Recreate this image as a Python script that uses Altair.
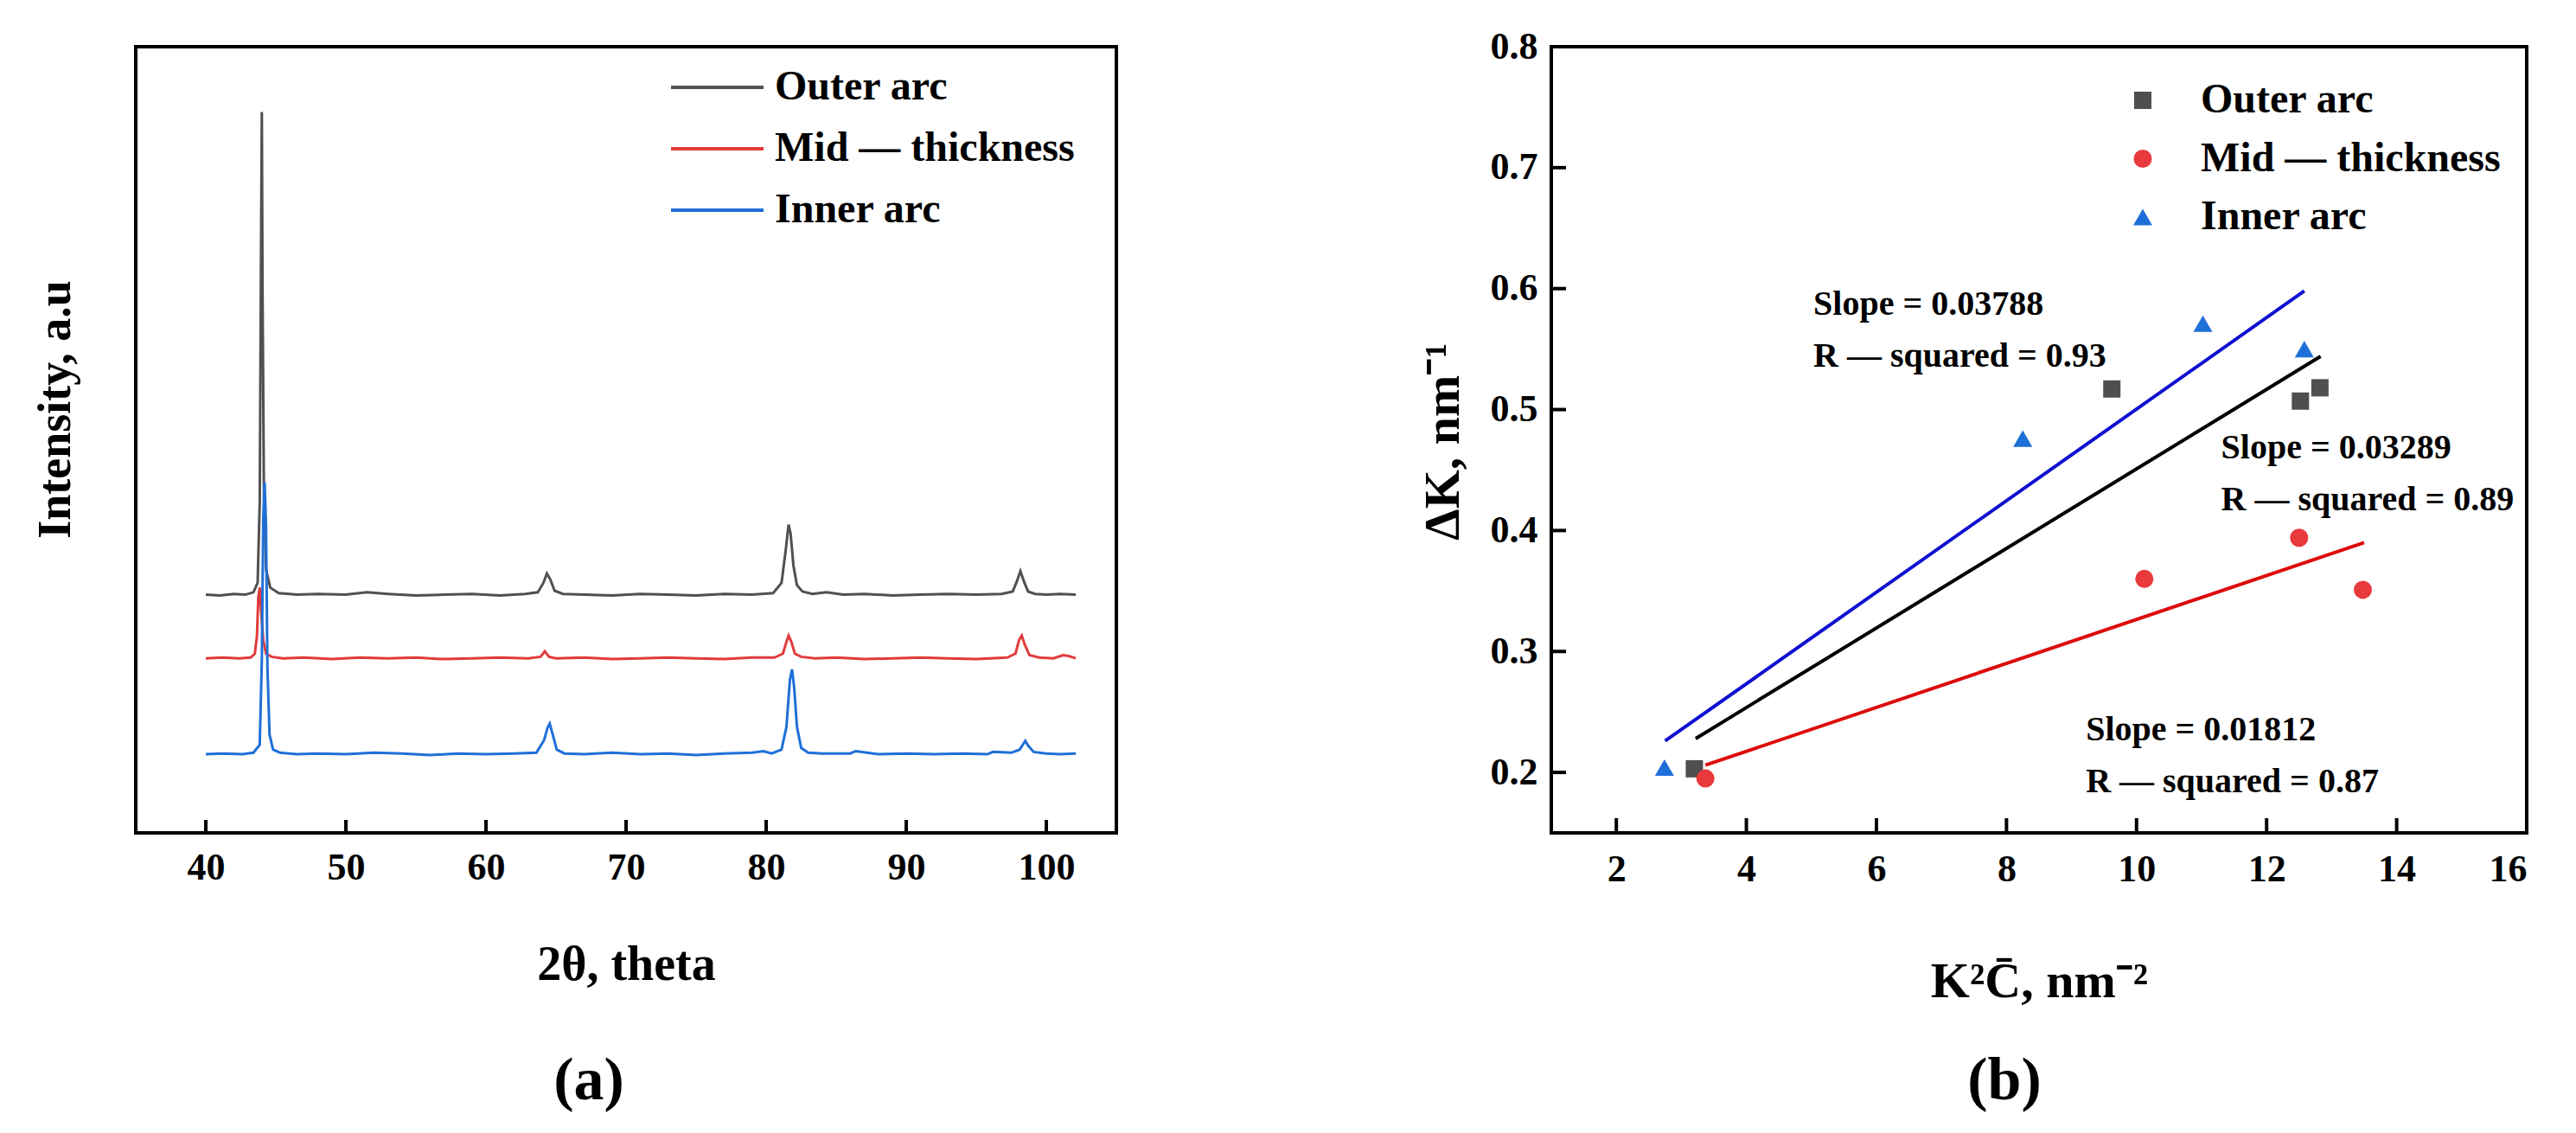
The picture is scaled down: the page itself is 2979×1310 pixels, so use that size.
import altair as alt
import pandas as pd

FONT = "Liberation Serif"

series_names = ["Outer arc", "Mid — thickness", "Inner arc"]

# ---- (a) XRD patterns (intensity in arbitrary units, stacked) ----
outer_theta = [40, 41, 42, 42.8, 43.4, 43.7, 43.85, 43.95, 44.0, 44.05,
               44.15, 44.3, 44.6, 45.2, 46.5, 48, 50, 51.5, 53, 55,
               57, 59, 61, 62.8, 63.7, 64.1, 64.35, 64.6, 64.9, 65.5,
               67, 69, 71, 73, 75, 77, 79, 80.5, 81.1, 81.4,
               81.6, 81.75, 81.95, 82.2, 82.6, 83.3, 84.3, 85.5, 87, 89,
               91, 93, 95, 96.8, 97.6, 97.9, 98.15, 98.4, 98.7, 99.2,
               100, 101, 102.1]
outer_int = [303, 302, 304, 303, 306, 318, 420, 760, 917, 690,
             430, 335, 312, 305, 303, 304, 303, 306, 304, 302,
             303, 304, 302, 304, 306, 318, 330, 322, 308, 304,
             303, 302, 304, 303, 302, 304, 303, 305, 318, 360,
             392, 380, 340, 315, 307, 304, 306, 303, 304, 302,
             303, 304, 303, 304, 307, 320, 333, 320, 307, 304,
             303, 304, 303]

mid_theta = [40, 41.2, 42.4, 43.2, 43.5, 43.65, 43.75, 43.85, 43.95, 44.1,
             44.3, 44.7, 45.5, 47, 49, 51, 53, 55, 57, 59,
             61, 63, 63.9, 64.2, 64.5, 65, 67, 69, 71, 73,
             75, 77, 79, 80.6, 81.2, 81.45, 81.6, 81.8, 82.05, 82.5,
             83.5, 85, 87, 89, 91, 93, 95, 97.2, 97.8, 98.05,
             98.25, 98.45, 98.8, 99.5, 100.5, 101.2, 101.6, 102.1]
mid_int = [222, 223, 222, 223, 228, 250, 300, 312, 282, 245,
           228, 224, 222, 223, 221, 223, 222, 223, 221, 222,
           223, 222, 224, 231, 224, 222, 223, 221, 222, 223,
           222, 221, 223, 223, 228, 243, 251, 243, 228, 224,
           222, 223, 221, 222, 223, 222, 221, 223, 228, 245,
           251, 240, 226, 223, 222, 226, 225, 222]

inner_theta = [40, 41.3, 42.6, 43.4, 43.85, 44.0, 44.1, 44.2, 44.3, 44.4,
               44.55, 44.8, 45.3, 46.5, 48, 50, 52, 54, 56, 58,
               60, 62, 63.6, 64.15, 64.4, 64.55, 64.75, 65.05, 65.6, 67,
               69, 71, 73, 75, 77, 79, 79.8, 80.4, 81.1, 81.45,
               81.7, 81.85, 82.0, 82.2, 82.5, 83, 84, 86, 86.4, 88,
               90, 92, 94, 95.8, 96.2, 97.5, 98.1, 98.35, 98.5, 98.7,
               99.1, 100, 101, 102.1]
inner_int = [100, 101, 100, 102, 112, 220, 400, 446, 390, 210,
             125, 106, 102, 100, 101, 100, 102, 101, 99, 101,
             100, 101, 102, 118, 134, 139, 126, 106, 101, 100,
             102, 100, 101, 99, 101, 102, 104, 101, 106, 135,
             195, 208, 185, 135, 108, 102, 101, 101, 104, 100,
             101, 100, 101, 100, 103, 102, 106, 113, 117, 111,
             103, 101, 100, 101]

xrd_ticks = [40, 50, 60, 70, 80, 90, 100]

# ---- (b) dK vs K^2 C ----
outer_k2c = [3.20, 9.62, 12.52, 12.82]
outer_dk = [0.203, 0.517, 0.507, 0.518]
mid_k2c = [3.37, 10.12, 12.50, 13.48]
mid_dk = [0.195, 0.360, 0.394, 0.351]
inner_k2c = [2.74, 8.25, 11.02, 12.58]
inner_dk = [0.204, 0.476, 0.571, 0.550]

fit_k2c_start = [3.22, 3.37, 2.75]
fit_k2c_end = [12.83, 13.50, 12.58]
fit_dk_start = [0.228, 0.206, 0.226]
fit_dk_end = [0.544, 0.390, 0.598]
fit_slope = ["0.03289", "0.01812", "0.03788"]
fit_r2 = ["0.89", "0.87", "0.93"]

wh_xticks = [2, 4, 6, 8, 10, 12, 14, 16]
wh_yticks = [0.2, 0.3, 0.4, 0.5, 0.6, 0.7, 0.8]

line_colors = ["#505050", "#e23b3b", "#1f6fd8"]
marker_colors = ["#4f4f4f", "#e8393c", "#1f6fd8"]
fit_colors = ["#000000", "#dd0b0b", "#1010d0"]

W_A, W_B, H = 1134, 1128, 909

# ---------------- panel (a) ----------------
rows = []
for name, xs, ys in zip(series_names, [outer_theta, mid_theta, inner_theta],
                        [outer_int, mid_int, inner_int]):
    for x, y in zip(xs, ys):
        rows.append({"series": name, "two_theta": x, "intensity": y})
xrd = pd.DataFrame(rows)

x_a = alt.Scale(domain=[35, 105], nice=False, zero=False)
y_a = alt.Scale(domain=[0, 1000], nice=False)
color_a = alt.Scale(domain=series_names, range=line_colors)

x_axis_a = alt.Axis(values=xrd_ticks, tickSize=0, domain=False, grid=False,
                    labelPadding=18, labelFontSize=44, labelFontWeight="bold",
                    title="2θ, theta", titleFontSize=56, titleFontWeight="bold",
                    titleY=169, titleBaseline="alphabetic")
y_axis_a = alt.Axis(labels=False, ticks=False, domain=False, grid=False,
                    title="Intensity, a.u", titleFontSize=54, titleFontWeight="bold",
                    titleAngle=270, titleX=-93, titleY=419,
                    titleBaseline="middle", titleAlign="center")

lines_a = alt.Chart(xrd).mark_line(strokeWidth=3).encode(
    x=alt.X("two_theta:Q", scale=x_a, axis=x_axis_a),
    y=alt.Y("intensity:Q", scale=y_a, axis=y_axis_a),
    color=alt.Color("series:N", scale=color_a, legend=None),
    detail="series:N",
)

ticks_a = alt.Chart(pd.DataFrame({"two_theta": xrd_ticks})).mark_rule(
    color="black", strokeWidth=4
).encode(
    x=alt.X("two_theta:Q", scale=x_a, axis=x_axis_a),
    y=alt.value(H),
    y2=alt.value(H - 15),
)

legend_a = pd.DataFrame({"series": series_names})
leg_y_a = alt.Y("series:N", axis=None,
                scale=alt.Scale(type="point", domain=series_names, range=[47, 189], padding=0))

leg_lines_a = alt.Chart(legend_a).mark_rule(strokeWidth=4).encode(
    x=alt.value(619), x2=alt.value(726), y=leg_y_a,
    color=alt.Color("series:N", scale=color_a, legend=None),
)
leg_text_a = alt.Chart(legend_a).mark_text(
    align="left", baseline="middle", font=FONT, fontSize=48, fontWeight="bold", color="black"
).encode(x=alt.value(739), y=leg_y_a, text="series:N")

label_a = alt.Chart(pd.DataFrame({"panel": ["(a)"]})).mark_text(
    font=FONT, fontSize=70, fontWeight="bold", align="center", baseline="middle", color="black"
).encode(x=alt.value(524), y=alt.value(1196), text="panel:N")

panel_a = alt.layer(
    lines_a, ticks_a, leg_lines_a, leg_text_a, label_a
).resolve_scale(y="independent").properties(width=W_A, height=H)

# ---------------- panel (b) ----------------
pts = []
for name, xs, ys in zip(series_names, [outer_k2c, mid_k2c, inner_k2c],
                        [outer_dk, mid_dk, inner_dk]):
    for x, y in zip(xs, ys):
        pts.append({"sample": name, "k2c": x, "dk": y})
pts_df = pd.DataFrame(pts)

fits = []
for i, name in enumerate(series_names):
    fits.append({"sample": name, "k2c": fit_k2c_start[i], "dk": fit_dk_start[i]})
    fits.append({"sample": name, "k2c": fit_k2c_end[i], "dk": fit_dk_end[i]})
fit_df = pd.DataFrame(fits)

# annotation anchors (left edge, middle) in data units
ann_x = [11.3, 9.22, 5.03]
ann_y = [0.468, 0.235, 0.587]
ann_gap = 0.043
ann = []
for i in range(3):
    ann.append({"txt": f"Slope = {fit_slope[i]}", "k2c": ann_x[i], "dk": ann_y[i]})
    ann.append({"txt": f"R — squared = {fit_r2[i]}", "k2c": ann_x[i], "dk": ann_y[i] - ann_gap})
ann_df = pd.DataFrame(ann)

x_b = alt.Scale(domain=[1, 16], nice=False, zero=False)
y_b = alt.Scale(domain=[0.15, 0.8], nice=False, zero=False)
fill_b = alt.Scale(domain=series_names, range=marker_colors)
shape_b = alt.Scale(domain=series_names, range=["square", "circle", "triangle-up"])
size_b = alt.Scale(domain=series_names, range=[400, 484, 625])
stroke_b = alt.Scale(domain=series_names, range=fit_colors)

x_axis_b = alt.Axis(values=wh_xticks, tickSize=0, domain=False, grid=False,
                    labelPadding=20, labelFontSize=44, labelFontWeight="bold",
                    title="K²C̄, nm⁻²", titleFontSize=58, titleFontWeight="bold",
                    titleY=189, titleBaseline="alphabetic")
y_axis_b = alt.Axis(values=wh_yticks, format=".1f", tickSize=0, domain=False,
                    grid=False, labelPadding=16, labelFontSize=44,
                    labelFontWeight="bold", labelBound=False,
                    title="ΔK, nm⁻¹", titleFontSize=58, titleFontWeight="bold",
                    titleAngle=270, titleX=-125, titleY=456,
                    titleBaseline="middle", titleAlign="center")

X_B = alt.X("k2c:Q", scale=x_b, axis=x_axis_b)
Y_B = alt.Y("dk:Q", scale=y_b, axis=y_axis_b)

fits_b = alt.Chart(fit_df).mark_line(strokeWidth=4).encode(
    x=X_B, y=Y_B,
    stroke=alt.Stroke("sample:N", scale=stroke_b, legend=None),
    detail="sample:N",
)

pts_b = alt.Chart(pts_df).mark_point(filled=True, opacity=1, strokeWidth=0).encode(
    x=X_B, y=Y_B,
    fill=alt.Fill("sample:N", scale=fill_b, legend=None),
    shape=alt.Shape("sample:N", scale=shape_b, legend=None),
    size=alt.Size("sample:N", scale=size_b, legend=None),
)

xt_b = alt.Chart(pd.DataFrame({"k2c": wh_xticks})).mark_rule(color="black", strokeWidth=4).encode(
    x=X_B, y=alt.value(H), y2=alt.value(H - 17)
)
yt_b = alt.Chart(pd.DataFrame({"dk": wh_yticks})).mark_rule(color="black", strokeWidth=4).encode(
    y=Y_B, x=alt.value(0), x2=alt.value(17)
)

ann_b = alt.Chart(ann_df).mark_text(
    align="left", baseline="middle", font=FONT, fontSize=40, fontWeight="bold", color="black"
).encode(x=X_B, y=Y_B, text="txt:N")

inner_b = alt.layer(fits_b, pts_b, xt_b, yt_b, ann_b)

legend_b = pd.DataFrame({"sample": series_names})
leg_y_b = alt.Y("sample:N", axis=None,
                scale=alt.Scale(type="point", domain=series_names, range=[62, 197], padding=0))
leg_pts_b = alt.Chart(legend_b).mark_point(filled=True, opacity=1, strokeWidth=0).encode(
    x=alt.value(684), y=leg_y_b,
    fill=alt.Fill("sample:N", scale=fill_b, legend=None),
    shape=alt.Shape("sample:N", scale=shape_b, legend=None),
    size=alt.Size("sample:N", scale=size_b, legend=None),
)
leg_text_b = alt.Chart(legend_b).mark_text(
    align="left", baseline="middle", font=FONT, fontSize=48, fontWeight="bold", color="black"
).encode(x=alt.value(751), y=leg_y_b, text="sample:N")

label_b = alt.Chart(pd.DataFrame({"panel": ["(b)"]})).mark_text(
    font=FONT, fontSize=70, fontWeight="bold", align="center", baseline="middle", color="black"
).encode(x=alt.value(524), y=alt.value(1196), text="panel:N")

panel_b = alt.layer(
    inner_b, leg_pts_b, leg_text_b, label_b
).resolve_scale(y="independent").properties(width=W_B, height=H)

chart = alt.hconcat(panel_a, panel_b, spacing=503, bounds="flush").resolve_scale(
    x="independent", y="independent"
).properties(
    padding={"left": 27, "top": 22, "right": 10, "bottom": 10}
).configure_view(
    stroke="black", strokeWidth=4
).configure_axis(
    labelFont=FONT, titleFont=FONT, labelColor="black", titleColor="black"
)

chart.save("out.html", embed_options={"renderer": "svg", "actions": False})
